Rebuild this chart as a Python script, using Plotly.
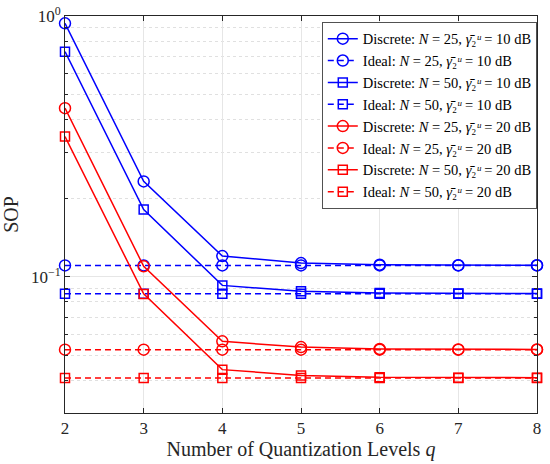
import plotly.graph_objects as go

q = [2, 3, 4, 5, 6, 7, 8]

disc_n25_10db = [0.937, 0.232, 0.120, 0.1128, 0.1112, 0.1106, 0.1106]
ideal_n25_10db = [0.1105] * 7
disc_n50_10db = [0.730, 0.181, 0.0926, 0.0879, 0.0865, 0.0862, 0.0862]
ideal_n50_10db = [0.0861] * 7
disc_n25_20db = [0.443, 0.1096, 0.0565, 0.0537, 0.0528, 0.0526, 0.0526]
ideal_n25_20db = [0.0525] * 7
disc_n50_20db = [0.345, 0.0859, 0.0440, 0.0418, 0.0411, 0.0410, 0.0410]
ideal_n50_20db = [0.0409] * 7

gam = "<i>γ̄</i>₂<i>ᵘ</i>"

series = [
    ("Discrete", 25, 10, disc_n25_10db, "blue", "circle-open", "solid"),
    ("Ideal", 25, 10, ideal_n25_10db, "blue", "circle-open", "6px,4px"),
    ("Discrete", 50, 10, disc_n50_10db, "blue", "square-open", "solid"),
    ("Ideal", 50, 10, ideal_n50_10db, "blue", "square-open", "6px,4px"),
    ("Discrete", 25, 20, disc_n25_20db, "red", "circle-open", "solid"),
    ("Ideal", 25, 20, ideal_n25_20db, "red", "circle-open", "6px,4px"),
    ("Discrete", 50, 20, disc_n50_20db, "red", "square-open", "solid"),
    ("Ideal", 50, 20, ideal_n50_20db, "red", "square-open", "6px,4px"),
]

fig = go.Figure()
for kind, n, db, vals, col, sym, dash in series:
    size = 11 if sym == "circle-open" else 9
    fig.add_trace(go.Scatter(
        x=q, y=vals, mode="lines+markers",
        name=f"{kind}: <i>N</i> = {n}, {gam} = {db} dB",
        line=dict(color=col, width=1.5, dash=dash),
        marker=dict(symbol=sym, size=size, color=col, line=dict(width=1.5, color=col)),
        cliponaxis=False,
    ))

font = "Liberation Serif"
fig.update_layout(
    width=550, height=464,
    margin=dict(l=65, r=13, t=16, b=51),
    paper_bgcolor="white", plot_bgcolor="white",
    font=dict(family=font, size=17, color="#262626"),
    legend=dict(
        x=1, y=0.985, xanchor="right", yanchor="top",
        bgcolor="white", bordercolor="#262626", borderwidth=0.8,
        font=dict(family=font, size=14.5, color="black"),
        tracegroupgap=0, itemwidth=30,
    ),
)
fig.update_xaxes(
    range=[2, 8], tickvals=q, automargin=False,
    title=dict(text="Number of Quantization Levels <i>q</i>", standoff=0),
    showline=True, linecolor="#262626", linewidth=0.8, mirror="ticks",
    ticks="inside", ticklen=5, tickcolor="#262626",
    showgrid=True, gridcolor="#e6e6e6", gridwidth=0.8, zeroline=False,
)
fig.update_yaxes(
    type="log", range=[-1.5229, 0], automargin=False,
    tickvals=[0.1, 1], ticktext=["10<sup>−1</sup>", "10<sup>0</sup>"],
    title=dict(text="SOP", standoff=10),
    showline=True, linecolor="#262626", linewidth=0.8, mirror="ticks",
    ticks="inside", ticklen=5, tickcolor="#262626",
    showgrid=True, gridcolor="#e6e6e6", gridwidth=0.8, zeroline=False,
    minor=dict(
        tickmode="array",
        tickvals=[0.04, 0.05, 0.06, 0.07, 0.08, 0.09, 0.2, 0.3, 0.4, 0.5, 0.6, 0.7, 0.8, 0.9],
        ticks="inside", ticklen=3, tickcolor="#262626",
        showgrid=True, gridcolor="#e0e0e0", griddash="dot", gridwidth=0.8,
    ),
)

fig.write_html("out.html", config={"displayModeBar": False},
               post_script="document.body.style.margin='0';")
